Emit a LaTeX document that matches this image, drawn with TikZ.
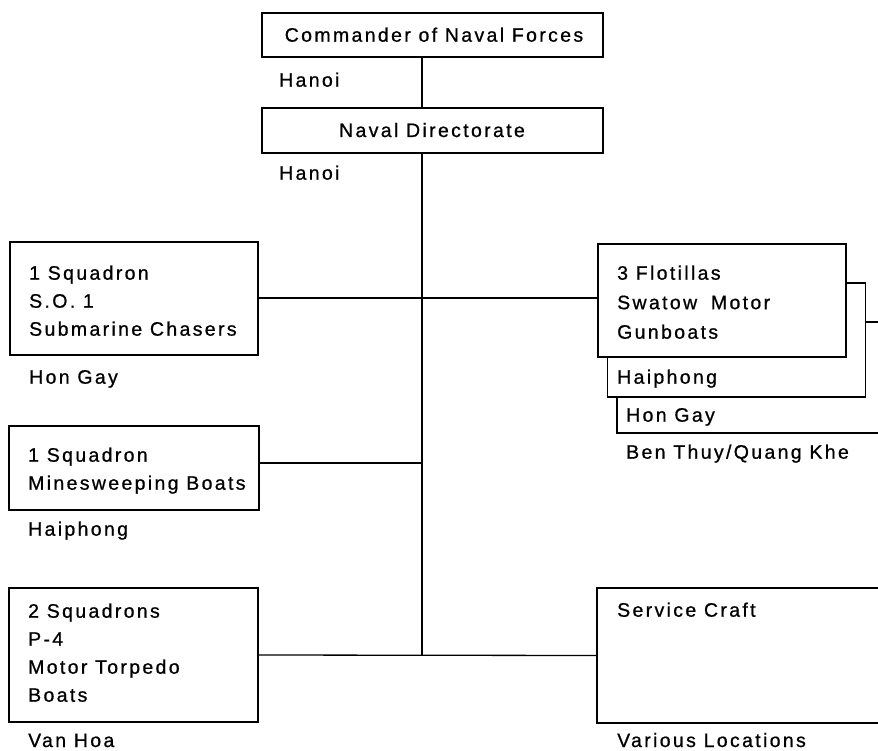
\documentclass[tikz,border=0pt]{standalone}
\usepackage{fontspec}
\setmainfont{Liberation Sans}[LetterSpace=12,FakeBold=0.8]
\begin{document}
\begin{tikzpicture}[x=1pt,y=-1pt,
  orgbox/.style={draw=black, line width=1.3pt, fill=white, rectangle, inner sep=0pt},
  lbl/.style={anchor=base west, inner sep=0pt, font=\fontsize{19.5}{28.5}\selectfont, align=left},
  clbl/.style={anchor=base, inner sep=0pt, font=\fontsize{19.5}{28.5}\selectfont},
  conn/.style={draw=black, line width=1.3pt}]
\fill[white] (0,0) rectangle (878,751);
\useasboundingbox (0,0) rectangle (878,751);
\clip (0,0) rectangle (878,751);

% top boxes
\node[orgbox, minimum width=341, minimum height=44] (cmd) at (432.5,35) {};
\node[clbl] (cmdt) at (434,41.7) {Commander of Naval Forces};
\node[lbl] (hanoi1) at (279,86.7) {Hanoi};
\node[orgbox, minimum width=341, minimum height=45] (dir) at (432.5,130.5) {};
\node[clbl] (dirt) at (432,137) {Naval Directorate};
\node[lbl] (hanoi2) at (279,179.7) {Hanoi};

% spine
\coordinate (s1) at (422,298);
\coordinate (s2) at (422,463);
\coordinate (s3) at (422,655);
\draw[conn] (cmd.south -| s1) -- (dir.north -| s1);
\draw[conn] (dir.south -| s1) -- (s3);

% right stacked flotilla boxes
\node[orgbox, minimum width=300, minimum height=111] (flc) at (767,377.5) {};
\node[orgbox, minimum width=258, minimum height=114] (flb) at (736.5,340) {};
\node[orgbox, minimum width=248, minimum height=113] (fla) at (722,300.5) {};
\node[lbl, font=\fontsize{19.5}{29.5}\selectfont] (flat) at (617,338.7) {3 Flotillas\\Swatow\hspace{6pt} Motor\\Gunboats};
\node[lbl] (flbt) at (617,383.7) {Haiphong};
\node[lbl] (flct) at (626,421.7) {Hon Gay};
\node[lbl] (fldt) at (626,458.7) {Ben Thuy/Quang Khe};

% service craft
\node[orgbox, minimum width=300, minimum height=135] (svc) at (747,655.5) {};
\node[lbl] (svct) at (617,616.7) {Service Craft};
\node[lbl] (svcl) at (617,747) {Various Locations};

% left boxes
\node[orgbox, minimum width=248, minimum height=113] (b1) at (134,298.5) {};
\node[lbl, font=\fontsize{19.5}{28}\selectfont] (b1t) at (29,335.7) {1 Squadron\\S.O. 1\\Submarine Chasers};
\node[lbl] (b1l) at (29,383.7) {Hon Gay};

\node[orgbox, minimum width=250, minimum height=84] (b2) at (134,468) {};
\node[lbl, font=\fontsize{19.5}{28}\selectfont] (b2t) at (28,489.7) {1 Squadron\\Minesweeping Boats};
\node[lbl] (b2l) at (28,535.7) {Haiphong};

\node[orgbox, minimum width=249, minimum height=134] (b3) at (133.5,655) {};
\node[lbl, font=\fontsize{19.5}{28}\selectfont] (b3t) at (28,701.7) {2 Squadrons\\P-4\\Motor Torpedo\\Boats};
\node[lbl] (b3l) at (28,747) {Van Hoa};

% connectors
\draw[conn] (b1.east |- s1) -- (fla.west |- s1);
\draw[conn] (b2.east |- s2) -- (s2);
\draw[conn] (b3.east) -- (svc.west);
\end{tikzpicture}
\end{document}
